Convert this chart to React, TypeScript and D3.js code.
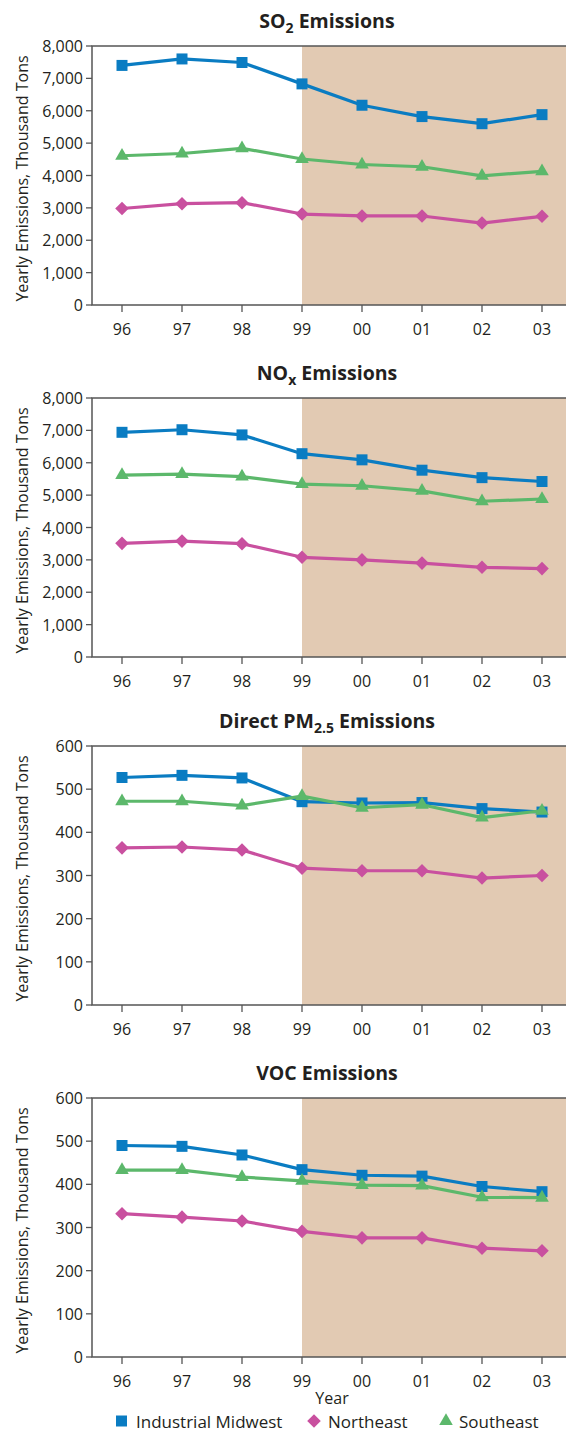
import React from "react";
import * as d3 from "d3";

const years = ["96", "97", "98", "99", "00", "01", "02", "03"];
const shadeStartYear = "99";

const seriesNames = ["Industrial Midwest", "Northeast", "Southeast"];

const so2Midwest = [7400, 7600, 7490, 6830, 6170, 5820, 5600, 5880];
const so2Northeast = [2980, 3130, 3160, 2810, 2750, 2750, 2530, 2740];
const so2Southeast = [4610, 4680, 4840, 4510, 4340, 4270, 3990, 4130];

const noxMidwest = [6940, 7020, 6860, 6280, 6090, 5770, 5540, 5420];
const noxNortheast = [3510, 3580, 3500, 3080, 3000, 2900, 2770, 2730];
const noxSoutheast = [5620, 5650, 5570, 5340, 5290, 5130, 4810, 4880];

const pmMidwest = [527, 532, 526, 471, 468, 469, 455, 447];
const pmNortheast = [364, 366, 359, 317, 311, 311, 294, 300];
const pmSoutheast = [472, 472, 462, 484, 457, 464, 434, 450];

const vocMidwest = [490, 488, 468, 434, 421, 419, 395, 383];
const vocNortheast = [332, 324, 315, 291, 276, 276, 252, 246];
const vocSoutheast = [433, 433, 417, 408, 398, 397, 370, 369];

const tonsTicks = [0, 1000, 2000, 3000, 4000, 5000, 6000, 7000, 8000];
const smallTicks = [0, 100, 200, 300, 400, 500, 600];

const yAxisTitle = "Yearly Emissions, Thousand Tons";
const xAxisTitle = "Year";

type Title = { main: string; sub: string; rest: string };

const panels = [
  { title: { main: "SO", sub: "2", rest: " Emissions" } as Title, ticks: tonsTicks, mw: so2Midwest, ne: so2Northeast, se: so2Southeast },
  { title: { main: "NO", sub: "x", rest: " Emissions" } as Title, ticks: tonsTicks, mw: noxMidwest, ne: noxNortheast, se: noxSoutheast },
  { title: { main: "Direct PM", sub: "2.5", rest: " Emissions" } as Title, ticks: smallTicks, mw: pmMidwest, ne: pmNortheast, se: pmSoutheast },
  { title: { main: "VOC", sub: "", rest: " Emissions" } as Title, ticks: smallTicks, mw: vocMidwest, ne: vocNortheast, se: vocSoutheast },
];

const W = 566;
const H = 1432;
const plotLeft = 92;
const plotRight = 572;
const panelTops = [46, 398, 746, 1098];
const plotH = 259;

const BLUE = "#0a7cc2";
const PINK = "#c9509f";
const GREEN = "#5cb86b";
const SHADE = "#e2cab3";
const AXIS = "#555555";
const TEXT = "#231f20";
const FONT = "'Open Sans', 'Noto Sans', sans-serif";

const squarePath = d3.symbol().type(d3.symbolSquare).size(121)()!;
const diamondPath = d3.symbol().type(d3.symbolSquare).size(92)()!;
const trianglePath = d3.symbol().type(d3.symbolTriangle).size(80)()!;

const colors = [BLUE, PINK, GREEN];
const markers = [
  { d: squarePath, rot: 0 },
  { d: diamondPath, rot: 45 },
  { d: trianglePath, rot: 0 },
];

function Panel({ p, top }: { p: (typeof panels)[number]; top: number }) {
  const x = d3.scalePoint<string>().domain(years).range([plotLeft, plotRight]).padding(0.5);
  const maxV = p.ticks[p.ticks.length - 1];
  const y = d3.scaleLinear().domain([0, maxV]).range([top + plotH, top]);
  const fmt = d3.format(",");
  const line = d3
    .line<number>()
    .x((_, i) => x(years[i])!)
    .y((v) => y(v));
  const shadeX = x(shadeStartYear)!;
  const bottom = top + plotH;
  const data = [p.mw, p.ne, p.se];
  const cx = 327;
  return (
    <g>
      <text x={cx} y={top - 18} textAnchor="middle" fontFamily={FONT} fontWeight={700} fontSize={19.5} fill={TEXT}>
        {p.title.main}
        {p.title.sub ? (
          <tspan fontSize={14} dy={5}>
            {p.title.sub}
          </tspan>
        ) : null}
        <tspan dy={p.title.sub ? -5 : 0}>{p.title.rest}</tspan>
      </text>
      <rect x={shadeX} y={top} width={plotRight - shadeX} height={plotH} fill={SHADE} />
      <path
        d={`M${plotRight},${top}H${plotLeft}V${bottom}H${plotRight}`}
        fill="none"
        stroke={AXIS}
        strokeWidth={1.5}
      />
      {p.ticks.map((t) => (
        <g key={t}>
          <line x1={plotLeft - 6} x2={plotLeft} y1={y(t)} y2={y(t)} stroke={AXIS} strokeWidth={1.3} />
          <text x={plotLeft - 9} y={y(t) + 6} textAnchor="end" fontFamily={FONT} fontSize={16} fill={TEXT}>
            {fmt(t)}
          </text>
        </g>
      ))}
      {years.map((yr) => (
        <g key={yr}>
          <line x1={x(yr)!} x2={x(yr)!} y1={bottom} y2={bottom + 7} stroke={AXIS} strokeWidth={1.3} />
          <text x={x(yr)!} y={bottom + 29.5} textAnchor="middle" fontFamily={FONT} fontSize={16} fill={TEXT}>
            {yr}
          </text>
        </g>
      ))}
      <text
        transform={`translate(28,${top + plotH / 2 + 3}) rotate(-90)`}
        textAnchor="middle"
        fontFamily={FONT}
        fontSize={16}
        fill={TEXT}
      >
        {yAxisTitle}
      </text>
      {data.map((vals, si) => (
        <g key={si}>
          <path d={line(vals)!} fill="none" stroke={colors[si]} strokeWidth={3.2} strokeLinejoin="round" />
          {vals.map((v, i) => (
            <path
              key={i}
              d={markers[si].d}
              transform={`translate(${x(years[i])},${y(v)}) rotate(${markers[si].rot})`}
              fill={colors[si]}
            />
          ))}
        </g>
      ))}
    </g>
  );
}

export default function App() {
  const legendItems = [
    { x: 121.5, tx: 136 },
    { x: 314, tx: 328 },
    { x: 446, tx: 459 },
  ];
  const legendY = 1422;
  return (
    <svg width={W} height={H} style={{ position: "absolute", left: 0, top: 0, background: "#fff" }}>
      {panels.map((p, i) => (
        <Panel key={i} p={p} top={panelTops[i]} />
      ))}
      <text x={332} y={1404} textAnchor="middle" fontFamily={FONT} fontSize={16} fill={TEXT}>
        {xAxisTitle}
      </text>
      {seriesNames.map((name, i) => (
        <g key={name}>
          <path
            d={markers[i].d}
            transform={`translate(${legendItems[i].x},${legendY - 1}) rotate(${markers[i].rot})`}
            fill={colors[i]}
          />
          <text x={legendItems[i].tx} y={legendY + 6} fontFamily={FONT} fontSize={17} fill={TEXT}>
            {name}
          </text>
        </g>
      ))}
    </svg>
  );
}
